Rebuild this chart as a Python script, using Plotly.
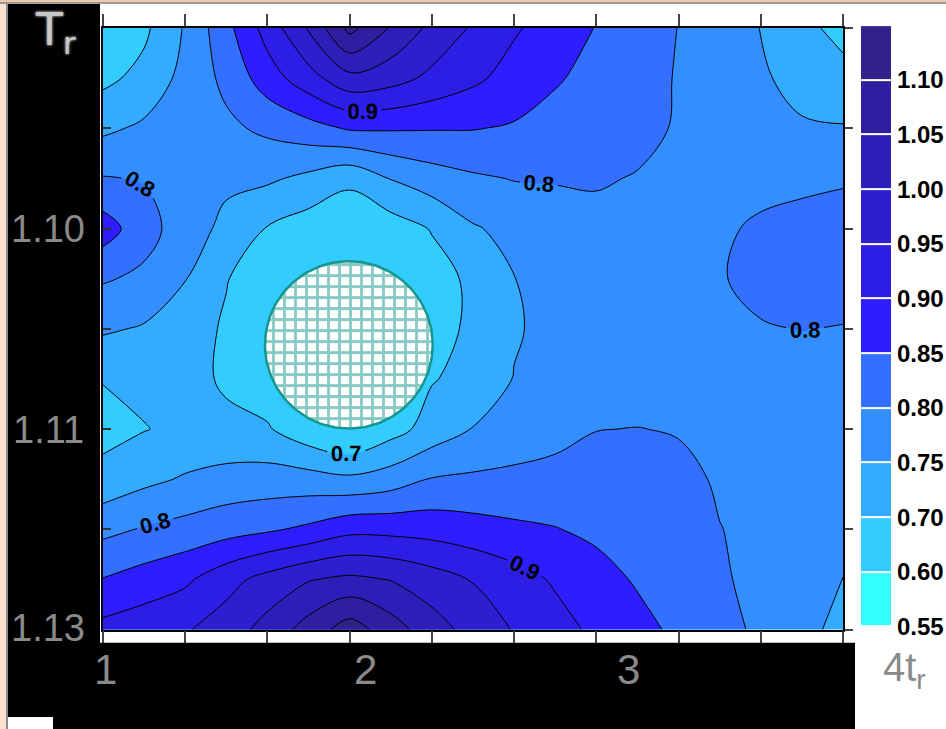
import numpy as np
import plotly.graph_objects as go

W, H = 946, 729          # canvas in pixels; positions below are given in it
FIG_H = 745              # rendered figure height (the page is shown squeezed to H)

# ---- field sampled on a regular grid (columns left->right, rows top->bottom) ----
X_COLS = [0.0, 0.5, 1.0, 1.5, 2.0, 2.5, 3.0, 3.5, 4.0, 4.5, 5.0, 5.5, 6.0, 6.5, 7.0, 7.5, 8.0, 8.5, 9.0]
Y_ROWS = [0.0, 0.5, 1.0, 1.5, 2.0, 2.5, 3.0, 3.5, 4.0, 4.5, 5.0, 5.5, 6.0]

Z_ROWS = [
    [0.660, 0.690, 0.755, 0.835, 0.920, 1.005, 1.115, 1.045, 0.987, 0.944, 0.906, 0.877, 0.848, 0.824, 0.799, 0.775, 0.749, 0.717, 0.680],
    [0.688, 0.715, 0.766, 0.812, 0.876, 0.930, 0.985, 0.970, 0.938, 0.910, 0.881, 0.855, 0.835, 0.816, 0.797, 0.776, 0.756, 0.735, 0.720],
    [0.740, 0.759, 0.770, 0.790, 0.810, 0.831, 0.855, 0.855, 0.853, 0.852, 0.845, 0.832, 0.825, 0.815, 0.795, 0.780, 0.775, 0.755, 0.753],
    [0.803, 0.797, 0.780, 0.760, 0.758, 0.738, 0.712, 0.752, 0.777, 0.793, 0.802, 0.803, 0.805, 0.797, 0.790, 0.785, 0.790, 0.790, 0.795],
    [0.875, 0.819, 0.775, 0.737, 0.697, 0.675, 0.660, 0.675, 0.703, 0.745, 0.765, 0.780, 0.785, 0.785, 0.785, 0.795, 0.805, 0.815, 0.820],
    [0.805, 0.790, 0.752, 0.702, 0.675, 0.655, 0.645, 0.655, 0.680, 0.710, 0.749, 0.770, 0.780, 0.780, 0.785, 0.797, 0.812, 0.818, 0.820],
    [0.757, 0.745, 0.718, 0.695, 0.670, 0.640, 0.620, 0.640, 0.670, 0.715, 0.745, 0.765, 0.775, 0.780, 0.785, 0.790, 0.797, 0.801, 0.798],
    [0.702, 0.712, 0.712, 0.695, 0.670, 0.640, 0.620, 0.640, 0.697, 0.715, 0.752, 0.765, 0.770, 0.775, 0.780, 0.780, 0.780, 0.780, 0.780],
    [0.685, 0.698, 0.712, 0.708, 0.705, 0.665, 0.640, 0.680, 0.720, 0.752, 0.775, 0.785, 0.799, 0.801, 0.797, 0.785, 0.780, 0.775, 0.775],
    [0.715, 0.738, 0.755, 0.769, 0.772, 0.770, 0.760, 0.775, 0.803, 0.808, 0.810, 0.815, 0.820, 0.820, 0.812, 0.795, 0.785, 0.780, 0.775],
    [0.787, 0.804, 0.817, 0.830, 0.843, 0.860, 0.886, 0.885, 0.880, 0.870, 0.860, 0.852, 0.840, 0.827, 0.814, 0.801, 0.790, 0.782, 0.770],
    [0.852, 0.871, 0.891, 0.932, 0.968, 0.997, 1.010, 0.998, 0.973, 0.947, 0.920, 0.894, 0.868, 0.845, 0.826, 0.806, 0.787, 0.768, 0.749],
    [0.915, 0.930, 0.945, 0.975, 1.018, 1.071, 1.125, 1.074, 1.022, 0.982, 0.947, 0.918, 0.890, 0.865, 0.840, 0.816, 0.791, 0.765, 0.735],
]

# colour bands: lower edge of each band and its colour
BAND_EDGES = [0.55, 0.60, 0.70, 0.75, 0.80, 0.85, 0.90, 0.95, 1.00, 1.05, 1.10]
BAND_COLORS = ["#33FFFF", "#33CCFF", "#33ABFF", "#338FFF", "#3370FF", "#2E1EFF",
               "#2D1EE6", "#2D1ED0", "#2E1EB8", "#2F1FA0", "#32218A"]

# level sets for the black iso-lines
LABELED_LEVELS = dict(start=0.70, end=0.90, size=0.10)
PLAIN_LEVELS_A = dict(start=0.75, end=1.05, size=0.10)
PLAIN_LEVELS_B = dict(start=1.00, end=1.10, size=0.10)

# hatched disc (axis units)
DISC_CENTER = (2.99, 3.16)
DISC_RADII = (1.02, 0.835)

# axis captions
LEFT_LABELS = ["1.10", "1.11", "1.13"]
BOTTOM_LABELS = ["1", "2", "3"]

# ---------------------------------------------------------------------------
def px(x):
    return x / W


def py(y):
    return 1 - y / H


SMOOTH = 1.0
fig = go.Figure()

# filled bands: a "<" constraint shades the region above its value
for edge, color in zip(BAND_EDGES, BAND_COLORS):
    fig.add_trace(go.Contour(
        x=X_COLS, y=Y_ROWS, z=Z_ROWS,
        contours=dict(type="constraint", operation="<", value=edge),
        fillcolor=color, showscale=False,
        line=dict(width=0, smoothing=SMOOTH), hoverinfo="skip",
    ))

for lv in (PLAIN_LEVELS_A, PLAIN_LEVELS_B):
    fig.add_trace(go.Contour(
        x=X_COLS, y=Y_ROWS, z=Z_ROWS, autocontour=False,
        contours=dict(coloring="none", showlabels=False, **lv),
        showscale=False, line=dict(color="black", width=1, smoothing=SMOOTH),
        hoverinfo="skip",
    ))

fig.add_trace(go.Contour(
    x=X_COLS, y=Y_ROWS, z=Z_ROWS, autocontour=False,
    contours=dict(coloring="none", showlabels=True, labelformat=".1f",
                  labelfont=dict(size=22, color="black",
                                 family="Liberation Sans", weight="bold"),
                  **LABELED_LEVELS),
    showscale=False, line=dict(color="black", width=1, smoothing=SMOOTH),
    hoverinfo="skip",
))

t = np.linspace(0, 2 * np.pi, 181)
fig.add_trace(go.Scatter(
    x=DISC_CENTER[0] + DISC_RADII[0] * np.cos(t),
    y=DISC_CENTER[1] + DISC_RADII[1] * np.sin(t),
    mode="lines", fill="toself", fillcolor="white",
    fillpattern=dict(shape="+", fgcolor="#13958C", bgcolor="white",
                     size=11, solidity=0.45),
    line=dict(color="#17968E", width=2.5), hoverinfo="skip", showlegend=False,
))

# colour key built as a one-column heatmap on its own axes
n_bands = len(BAND_COLORS)
key_scale = []
for k, c in enumerate(BAND_COLORS):
    key_scale.append([k / n_bands, c])
    key_scale.append([(k + 1) / n_bands, c])
fig.add_trace(go.Heatmap(
    x=[0], y=list(range(n_bands)), z=[[k] for k in range(n_bands)],
    zmin=-0.5, zmax=n_bands - 0.5, colorscale=key_scale, showscale=False,
    ygap=2, xaxis="x2", yaxis="y2", hoverinfo="skip",
))

axis_common = dict(showgrid=False, zeroline=False, showticklabels=False,
                   ticks="outside", tickcolor="#444", tickwidth=1.5,
                   showline=True, linecolor="black", linewidth=1.5)

fig.update_layout(
    width=W, height=FIG_H, margin=dict(l=0, r=0, t=0, b=0, pad=0),
    paper_bgcolor="white", plot_bgcolor="white", showlegend=False,
    xaxis=dict(domain=[px(103), px(843)], range=[0, 9], tickvals=list(range(10)),
               ticklen=12, anchor="y", mirror="ticks", **axis_common),
    # right-hand axis carries outward ticks, the left one inward ticks
    yaxis=dict(domain=[py(627), py(28)], range=[6, 0], tickvals=list(range(7)),
               ticklen=8, anchor="x", side="right", mirror=True, **axis_common),
    yaxis3=dict(overlaying="y", anchor="x", side="left", range=[6, 0],
                tickvals=list(range(7)), ticks="inside", ticklen=8,
                tickcolor="#333", tickwidth=1.5, showticklabels=False,
                showgrid=False, zeroline=False, showline=False),
    xaxis2=dict(domain=[px(861), px(891)], range=[-0.5, 0.5], visible=False,
                anchor="y2"),
    yaxis2=dict(domain=[py(624), py(25)], range=[-0.5, n_bands - 0.5],
                anchor="x2", side="right", showgrid=False, zeroline=False,
                ticks="", showline=False,
                tickvals=[k - 0.5 for k in range(n_bands)],
                ticktext=[f"{v:.2f}" for v in BAND_EDGES],
                ticklabelstandoff=5,
                tickfont=dict(family="Liberation Sans", size=24,
                              color="black", weight="bold")),
)
# an empty trace so the inner-tick axis is drawn
fig.add_trace(go.Scatter(x=[], y=[], yaxis="y3", showlegend=False,
                         hoverinfo="skip"))

# frame panels around the plot
shapes = [
    dict(x0=0, x1=W, y0=0, y1=2, fillcolor="#EFC7A6"),
    dict(x0=0, x1=W, y0=2, y1=4, fillcolor="#9C9C9C"),
    dict(x0=0, x1=6, y0=4, y1=H, fillcolor="#FDE3CF"),
    dict(x0=6, x1=8, y0=4, y1=H, fillcolor="#8E8E8E"),
    dict(x0=8, x1=100, y0=4, y1=H, fillcolor="black"),
    dict(x0=8, x1=855, y0=640, y1=H, fillcolor="black"),
    dict(x0=8, x1=53, y0=714, y1=H, fillcolor="white"),
]
fig.update_layout(shapes=[
    dict(type="rect", xref="paper", yref="paper", layer="above",
         x0=px(s["x0"]), x1=px(s["x1"]), y0=py(s["y1"]), y1=py(s["y0"]),
         fillcolor=s["fillcolor"], line=dict(width=0))
    for s in shapes
])

GRAY = "#8A8A8A"
ann = []
for txt, yy in zip(LEFT_LABELS, [228, 428, 625]):
    ann.append(dict(text=txt, x=px(48), y=py(yy),
                    font=dict(family="Liberation Sans", size=38, color=GRAY)))
for txt, xx in zip(BOTTOM_LABELS, [105, 365, 628]):
    ann.append(dict(text=txt, x=px(xx), y=py(667),
                    font=dict(family="Liberation Sans", size=42, color=GRAY)))
ann.append(dict(text="4t<sub>r</sub>", x=px(904), y=py(667),
                font=dict(family="Liberation Sans", size=40, color=GRAY)))
ann.append(dict(text="T<sub>r</sub>", x=px(55), y=py(32),
                font=dict(family="DejaVu Sans", size=44, color="#C8C8C8",
                          shadow="0px 0px 3px #FFFFFF")))
fig.update_layout(annotations=[
    dict(xref="paper", yref="paper", showarrow=False, xanchor="center",
         yanchor="middle", **a) for a in ann
])

fig.write_html("out.html")
